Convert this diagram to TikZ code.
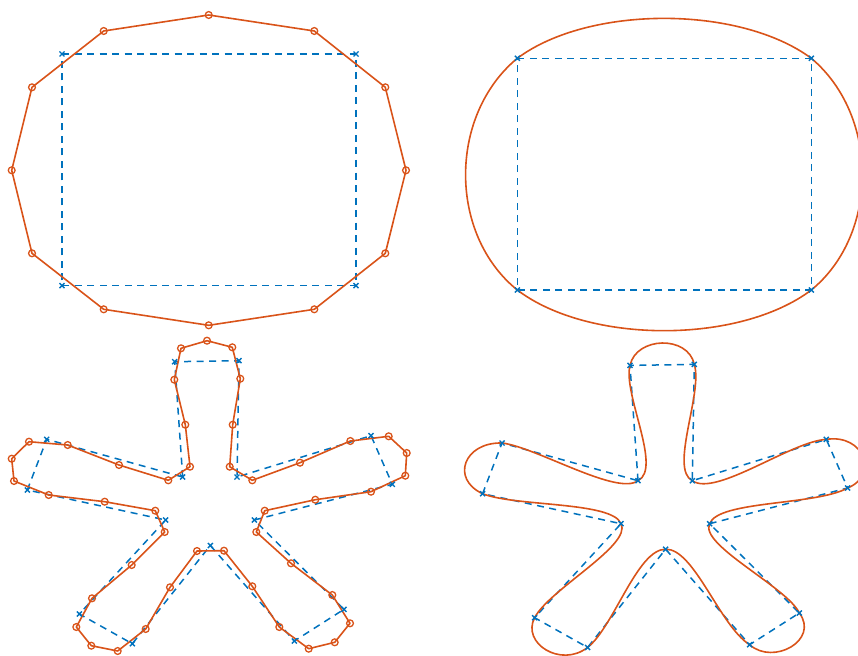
\documentclass[tikz,border=0pt]{standalone}
\usetikzlibrary{calc}
\definecolor{mblue}{rgb}{0,0.447,0.741}
\definecolor{morange}{rgb}{0.85,0.325,0.098}
\tikzset{
  ctrlpoly/.style={draw=mblue, line width=1.5pt, dash pattern=on 7pt off 5.5pt},
  ctrlmark/.style={draw=mblue, line width=1.4pt, solid},
  samplepoly/.style={draw=morange, line width=1.6pt, line join=round},
  samplemark/.style={draw=morange, line width=1.3pt, solid},
  splinecurve/.style={draw=morange, line width=1.6pt, line join=round}
}
% Bezier control points of a segment P0->P3 fitted to its samples at 1/6, 1/2, 5/6
\newcommand\mkctrl[6]{%
  \coordinate (#1a) at ($2.2579*(#3) + 0.8244*(#4) - 1.3419*(#5) - 1.4035*(#2) + 0.66306*(#6)$);
  \coordinate (#1b) at ($2.2579*(#5) + 0.8244*(#4) - 1.3419*(#3) - 1.4035*(#6) + 0.66306*(#2)$);}
\newcommand\xmk[1]{\draw[ctrlmark] (#1) +(-2.5,-2.5) -- +(2.5,2.5) +(-2.5,2.5) -- +(2.5,-2.5);}
\newcommand\omk[1]{\draw[samplemark] (#1) circle[radius=3.4];}
% rectangle data
\newcommand\rectpts[1]{%
  \coordinate (#1v0) at (62,54);   \coordinate (#1v1) at (356,54);
  \coordinate (#1v2) at (356,285.7); \coordinate (#1v3) at (62,285.7);
  \coordinate (#1s0x) at (103.7,31);   \coordinate (#1s0y) at (208.7,15);    \coordinate (#1s0z) at (314.3,31);
  \coordinate (#1s1x) at (385.3,87.3); \coordinate (#1s1y) at (406,170.3);   \coordinate (#1s1z) at (385.3,253.3);
  \coordinate (#1s2x) at (314.3,309.3);\coordinate (#1s2y) at (208.7,325.3); \coordinate (#1s2z) at (103.7,309.3);
  \coordinate (#1s3x) at (32,253.3);   \coordinate (#1s3y) at (11.7,170.3);  \coordinate (#1s3z) at (32,87.3);}
% star data
\newcommand\starpts[1]{%
  \coordinate (#1v0) at (182.7,477);  \coordinate (#1v1) at (174.7,361.7); \coordinate (#1v2) at (239,360.7);
  \coordinate (#1v3) at (237,477);    \coordinate (#1v4) at (371,435.7);   \coordinate (#1v5) at (392.3,484.3);
  \coordinate (#1v6) at (254.3,520);  \coordinate (#1v7) at (344,609.3);   \coordinate (#1v8) at (294.3,641);
  \coordinate (#1v9) at (210.3,545.5);\coordinate (#1v10) at (132.3,643.7);\coordinate (#1v11) at (79.3,614);
  \coordinate (#1v12) at (165.7,520); \coordinate (#1v13) at (27.3,490);   \coordinate (#1v14) at (46.7,439.3);
  \coordinate (#1s0x) at (190,466.7);  \coordinate (#1s0y) at (185.3,424.7); \coordinate (#1s0z) at (174.3,379.7);
  \coordinate (#1s1x) at (181,348.3);  \coordinate (#1s1y) at (207,340.7);   \coordinate (#1s1z) at (232.3,347.3);
  \coordinate (#1s2x) at (240.3,378.7);\coordinate (#1s2y) at (232.7,424.7); \coordinate (#1s2z) at (229.7,466.7);
  \coordinate (#1s3x) at (252.3,480.3);\coordinate (#1s3y) at (300,462.7);   \coordinate (#1s3z) at (350.3,441);
  \coordinate (#1s4x) at (388.7,436.3);\coordinate (#1s4y) at (406.7,453);   \coordinate (#1s4z) at (405.3,475.7);
  \coordinate (#1s5x) at (371,491.7);  \coordinate (#1s5y) at (315.3,499.7); \coordinate (#1s5z) at (264.7,510.7);
  \coordinate (#1s6x) at (256.3,532);  \coordinate (#1s6y) at (291,563.3);   \coordinate (#1s6z) at (332.3,595);
  \coordinate (#1s7x) at (350,623.3);  \coordinate (#1s7y) at (334.7,642.3); \coordinate (#1s7z) at (308.7,648.7);
  \coordinate (#1s8x) at (279.3,627);  \coordinate (#1s8y) at (252.3,586.3); \coordinate (#1s8z) at (224,550.7);
  \coordinate (#1s9x) at (197,551);    \coordinate (#1s9y) at (170,587.3);   \coordinate (#1s9z) at (145.7,629);
  \coordinate (#1s10x) at (117.7,651); \coordinate (#1s10y) at (91.3,645.7); \coordinate (#1s10z) at (76.3,627);
  \coordinate (#1s11x) at (92,598.3);  \coordinate (#1s11y) at (131.7,565);  \coordinate (#1s11z) at (164.7,532);
  \coordinate (#1s12x) at (155.3,510.7);\coordinate (#1s12y) at (104.7,501.7);\coordinate (#1s12z) at (48.7,495);
  \coordinate (#1s13x) at (14,481);    \coordinate (#1s13y) at (11.7,458.7); \coordinate (#1s13z) at (29,441.7);
  \coordinate (#1s14x) at (67.7,445);  \coordinate (#1s14y) at (119,465);    \coordinate (#1s14z) at (168.3,480.3);}
\begin{document}
\begin{tikzpicture}[x=1pt,y=-1pt]
\useasboundingbox (0,0) rectangle (858,655);
\clip (0,0) rectangle (858,655);

\rectpts{A}
\begin{scope}[shift={(455.3,4.3)}]\rectpts{B}\end{scope}
\starpts{C}
\begin{scope}[shift={(455.3,3.7)}]\starpts{D}\end{scope}

% control points of the smooth curves
\foreach \i/\j in {0/1,1/2,2/3,3/0}{\mkctrl{Bk\i}{Bv\i}{Bs\i x}{Bs\i y}{Bs\i z}{Bv\j}}
\foreach \i/\j in {0/1,1/2,2/3,3/4,4/5,5/6,6/7,7/8,8/9,9/10,10/11,11/12,12/13,13/14,14/0}{\mkctrl{Dk\i}{Dv\i}{Ds\i x}{Ds\i y}{Ds\i z}{Dv\j}}

% ---------- top left ----------
\draw[ctrlpoly] (Av0) -- (Av1) -- (Av2) -- (Av3) -- cycle;
\draw[samplepoly] (As0x) -- (As0y) -- (As0z) -- (As1x) -- (As1y) -- (As1z)
  -- (As2x) -- (As2y) -- (As2z) -- (As3x) -- (As3y) -- (As3z) -- cycle;
\foreach \i in {0,...,3}{\omk{As\i x}\omk{As\i y}\omk{As\i z}}
\foreach \i in {0,...,3}{\xmk{Av\i}}

% ---------- top right ----------
\draw[ctrlpoly] (Bv0) -- (Bv1) -- (Bv2) -- (Bv3) -- cycle;
\draw[splinecurve] (Bv0)
  .. controls (Bk0a) and (Bk0b) .. (Bv1)
  .. controls (Bk1a) and (Bk1b) .. (Bv2)
  .. controls (Bk2a) and (Bk2b) .. (Bv3)
  .. controls (Bk3a) and (Bk3b) .. (Bv0) -- cycle;
\foreach \i in {0,...,3}{\xmk{Bv\i}}

% ---------- bottom left ----------
\draw[ctrlpoly] (Cv0) -- (Cv1) -- (Cv2) -- (Cv3) -- (Cv4) -- (Cv5) -- (Cv6) -- (Cv7)
  -- (Cv8) -- (Cv9) -- (Cv10) -- (Cv11) -- (Cv12) -- (Cv13) -- (Cv14) -- cycle;
\draw[samplepoly] (Cs0x) -- (Cs0y) -- (Cs0z) -- (Cs1x) -- (Cs1y) -- (Cs1z)
  -- (Cs2x) -- (Cs2y) -- (Cs2z) -- (Cs3x) -- (Cs3y) -- (Cs3z)
  -- (Cs4x) -- (Cs4y) -- (Cs4z) -- (Cs5x) -- (Cs5y) -- (Cs5z)
  -- (Cs6x) -- (Cs6y) -- (Cs6z) -- (Cs7x) -- (Cs7y) -- (Cs7z)
  -- (Cs8x) -- (Cs8y) -- (Cs8z) -- (Cs9x) -- (Cs9y) -- (Cs9z)
  -- (Cs10x) -- (Cs10y) -- (Cs10z) -- (Cs11x) -- (Cs11y) -- (Cs11z)
  -- (Cs12x) -- (Cs12y) -- (Cs12z) -- (Cs13x) -- (Cs13y) -- (Cs13z)
  -- (Cs14x) -- (Cs14y) -- (Cs14z) -- cycle;
\foreach \i in {0,...,14}{\omk{Cs\i x}\omk{Cs\i y}\omk{Cs\i z}}
\foreach \i in {0,...,14}{\xmk{Cv\i}}

% ---------- bottom right ----------
\draw[ctrlpoly] (Dv0) -- (Dv1) -- (Dv2) -- (Dv3) -- (Dv4) -- (Dv5) -- (Dv6) -- (Dv7)
  -- (Dv8) -- (Dv9) -- (Dv10) -- (Dv11) -- (Dv12) -- (Dv13) -- (Dv14) -- cycle;
\draw[splinecurve] (Dv0)
  .. controls (Dk0a) and (Dk0b) .. (Dv1)
  .. controls (Dk1a) and (Dk1b) .. (Dv2)
  .. controls (Dk2a) and (Dk2b) .. (Dv3)
  .. controls (Dk3a) and (Dk3b) .. (Dv4)
  .. controls (Dk4a) and (Dk4b) .. (Dv5)
  .. controls (Dk5a) and (Dk5b) .. (Dv6)
  .. controls (Dk6a) and (Dk6b) .. (Dv7)
  .. controls (Dk7a) and (Dk7b) .. (Dv8)
  .. controls (Dk8a) and (Dk8b) .. (Dv9)
  .. controls (Dk9a) and (Dk9b) .. (Dv10)
  .. controls (Dk10a) and (Dk10b) .. (Dv11)
  .. controls (Dk11a) and (Dk11b) .. (Dv12)
  .. controls (Dk12a) and (Dk12b) .. (Dv13)
  .. controls (Dk13a) and (Dk13b) .. (Dv14)
  .. controls (Dk14a) and (Dk14b) .. (Dv0) -- cycle;
\foreach \i in {0,...,14}{\xmk{Dv\i}}
\end{tikzpicture}
\end{document}
